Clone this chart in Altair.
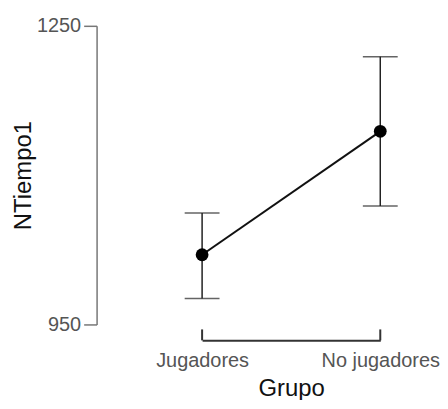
import altair as alt
import pandas as pd

grupos = ["Jugadores", "No jugadores"]
medias = [1020, 1144]
inferior = [976, 1069]
superior = [1062, 1219]

df = pd.DataFrame({"Grupo": grupos, "media": medias, "lo": inferior, "hi": superior})

FONT = "Liberation Sans"
H = 300
XOFF = 16

x = alt.X("Grupo:N", sort=grupos, scale=alt.Scale(type="point", padding=0),
          axis=alt.Axis(title="Grupo", offset=XOFF, domainColor="#333333", domainWidth=2,
                        ticks=False, labelAngle=0, labelPadding=10, titlePadding=6))
y_scale = alt.Scale(domain=[950, 1250], nice=False, zero=False)
y = alt.Y("media:Q", scale=y_scale,
          axis=alt.Axis(title="NTiempo1", offset=106, values=[950, 1250], grid=False, format="d",
                        domainColor="#777777", domainWidth=1.5, tickColor="#777777",
                        tickWidth=1.5, tickSize=13, labelPadding=3, titlePadding=1))

base = alt.Chart(df)

bars = base.mark_rule(color="#222222", strokeWidth=1.5).encode(
    x=alt.X("Grupo:N", sort=grupos), y=alt.Y("lo:Q", scale=y_scale), y2="hi:Q")
cap_hi = base.mark_tick(color="#222222", thickness=1.5, size=35, orient="horizontal").encode(
    x=alt.X("Grupo:N", sort=grupos), y=alt.Y("hi:Q", scale=y_scale))
cap_lo = base.mark_tick(color="#222222", thickness=1.5, size=35, orient="horizontal").encode(
    x=alt.X("Grupo:N", sort=grupos), y=alt.Y("lo:Q", scale=y_scale))
line = base.mark_line(color="#111111", strokeWidth=2).encode(x=x, y=y)
pts = base.mark_circle(color="#000000", opacity=1, size=165).encode(
    x=alt.X("Grupo:N", sort=grupos), y=alt.Y("media:Q", scale=y_scale))
brackets = base.mark_rule(color="#333333", strokeWidth=2).encode(
    x=alt.X("Grupo:N", sort=grupos), y=alt.value(H + XOFF - 11), y2=alt.value(H + XOFF))

chart = alt.layer(line, bars, cap_hi, cap_lo, pts, brackets).properties(
    width=179, height=H,
    autosize=alt.AutoSizeParams(type="none"),
    padding={"left": 195, "top": 17, "right": 60, "bottom": 75},
    background="white",
).configure_view(stroke=None).configure_axis(
    labelFont=FONT, labelFontSize=20, labelColor="#555555",
    titleFont=FONT, titleFontSize=24, titleFontWeight="normal", titleColor="#111111",
)

chart.save("out.html", embed_options={"renderer": "svg", "actions": False})
